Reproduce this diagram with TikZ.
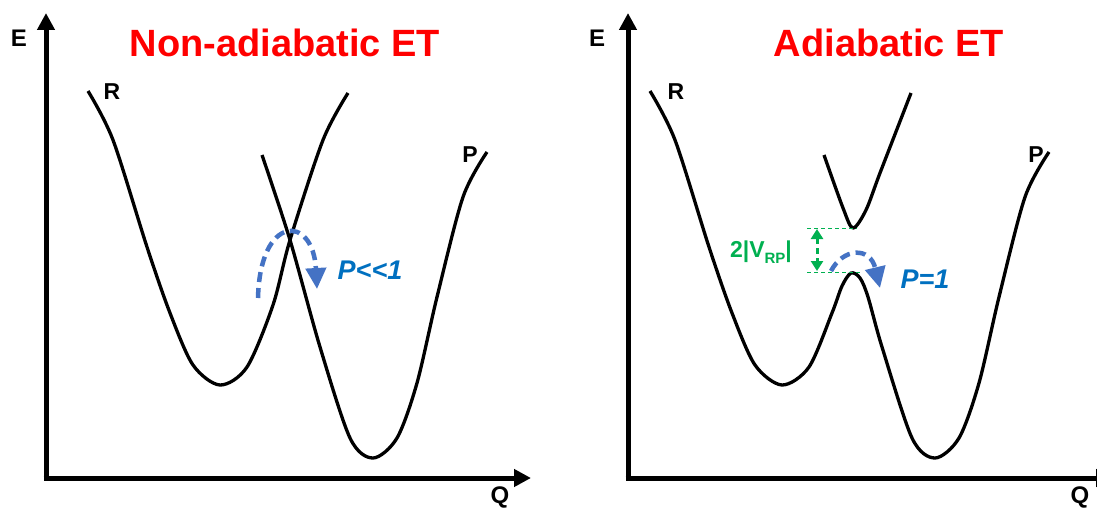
\documentclass[tikz,border=0pt]{standalone}
\usepackage{fontspec}
\setmainfont{Liberation Sans}
\usetikzlibrary{arrows.meta}
\definecolor{titlered}{RGB}{255,0,0}
\definecolor{hopblue}{RGB}{68,114,196}
\definecolor{pblue}{RGB}{0,112,192}
\definecolor{vgreen}{RGB}{0,176,80}
\tikzset{
  axis/.style={line width=5pt,-{Triangle[length=17pt,width=17pt]}},
  curve/.style={line width=3.3pt,line join=round,smooth,tension=0.5},
  axlabel/.style={font=\fontsize{24}{26}\selectfont\bfseries,inner sep=0pt},
  statelabel/.style={font=\fontsize{23}{25}\selectfont\bfseries,inner sep=0pt},
  titletext/.style={font=\fontsize{38}{40}\selectfont\bfseries,text=titlered,inner sep=0pt,anchor=base},
  hop/.style={draw=hopblue,line width=4.5pt,dash pattern=on 10pt off 6pt,-{Triangle[length=21pt,width=20pt]}},
  plabel/.style={font=\fontsize{27}{29}\selectfont\bfseries\itshape,text=pblue,inner sep=0pt},
  gap/.style={draw=vgreen,line width=1pt,dash pattern=on 4pt off 3pt},
  gaparrow/.style={draw=vgreen,line width=3pt,dash pattern=on 6pt off 4pt,{Triangle[length=10pt,width=12pt]}-{Triangle[length=10pt,width=12pt]}},
}
\begin{document}
\begin{tikzpicture}[x=1pt,y=-1pt]
\useasboundingbox (0,0) rectangle (1097,508);
\fill[white] (0,0) rectangle (1097,508);

% ---------- left panel ----------
\coordinate (ytop1) at (46,13);
\coordinate (xend1) at (531,478);
\draw[axis] (46,480.5) -- (ytop1);
\draw[axis] (43.5,478) -- (xend1);
\node[axlabel] (E1) at (19,38) {E};
\node[axlabel] (Q1) at (500,497) {Q};
\node[titletext] (T1) at (285,57) {Non-adiabatic ET};

\draw[curve] plot coordinates {(88,91) (113,140) (147,247) (170,313) (193,365) (220,385) (247,367) (273,305) (290,240) (323,140) (348,93)};
\draw[curve] plot coordinates {(262,155) (290,240) (320,347) (350,438) (373,458) (397,438) (417,383) (437,297) (463,197) (487,152)};
\node[statelabel] (R1) at (112,92) {R};
\node[statelabel] (P1) at (470,155) {P};

\coordinate (h1s) at (258,298);
\coordinate (h1e) at (317,289);
\draw[hop] (h1s) .. controls (260,214) and (313,214) .. (h1e);
\node[plabel] (pl1) at (370,270) {P<\kern0pt<\kern0pt1};

% ---------- right panel ----------
\coordinate (ytop2) at (628,13);
\coordinate (xend2) at (1113,478);
\draw[axis] (628,480.5) -- (ytop2);
\draw[axis] (625.5,478) -- (xend2);
\node[axlabel] (E2) at (597,38) {E};
\node[axlabel] (Q2) at (1080,497) {Q};
\node[titletext] (T2) at (889,57) {Adiabatic ET};

\draw[curve] plot coordinates {(650,91) (675,140) (709,247) (732,313) (755,365) (782,385) (809,367) (832,313) (842,286) (851,273) (860,278) (868,297) (882,347) (912,438) (935,458) (959,438) (979,383) (999,297) (1025,197) (1049,152)};
\draw[curve] plot coordinates {(824,155) (843,208) (853,228) (866,210) (880,173) (911,93)};
\node[statelabel] (R2) at (676,92) {R};
\node[statelabel] (P2) at (1036,155) {P};

\coordinate (gtl) at (807,228);
\coordinate (gtr) at (857,228);
\coordinate (gbl) at (807,272);
\coordinate (gbr) at (860,272);
\draw[gap] (gtl) -- (gtr);
\draw[gap] (gbl) -- (gbr);
\coordinate (ga) at (817,229);
\coordinate (gb) at (817,271);
\draw[gaparrow] (ga) -- (gb);
\node[font=\fontsize{23}{25}\selectfont\bfseries,text=vgreen,inner sep=0pt] (vrp) at (761,252) {2|V\raisebox{-0.25em}{\fontsize{15}{17}\selectfont RP}|};

\coordinate (h2s) at (831,271);
\coordinate (h2e) at (880,288);
\draw[hop] (h2s) .. controls (843,248) and (870,246) .. (h2e);
\node[plabel] (pl2) at (925,279) {P=1};
\end{tikzpicture}
\end{document}
